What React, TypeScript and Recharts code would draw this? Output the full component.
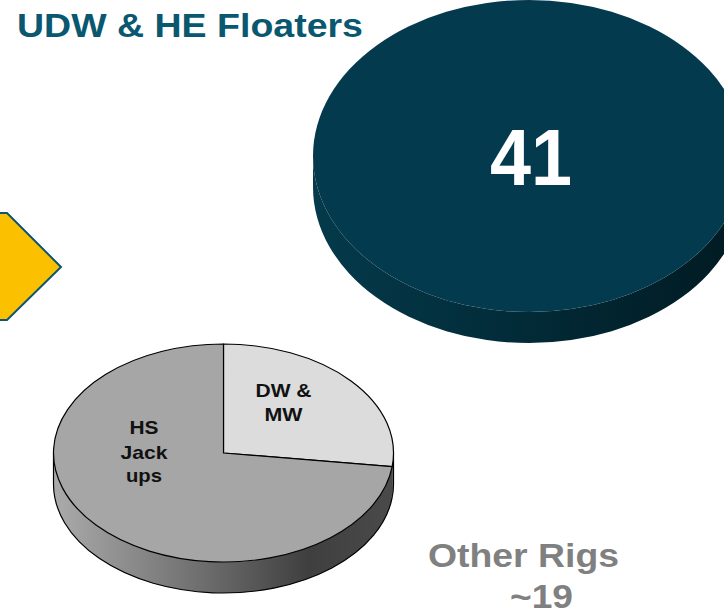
import { PieChart, Pie, Cell } from 'recharts';

// values
const floaterNames = ['UDW & HE Floaters'];
const floaterValues = [41];
const otherNames = ['DW & MW', 'HS Jack ups'];
const otherValues = [27, 73];
const otherTotal = '~19';

const W = 724;
const H = 616;
const FONT = '"Liberation Sans", Arial, Helvetica, sans-serif';

const floaterData = floaterNames.map((name, i) => ({ name, value: floaterValues[i] }));
const otherData = otherNames.map((name, i) => ({ name, value: otherValues[i] }));

// flattened 3D disc: the library gives each sector's angles, this just squashes it
const disc =
  (id: string, tilt: number, depth: number, stops: [number, string][], edgeW: number) =>
  (props: any) => {
    const { cx, cy, outerRadius: r, startAngle, endAngle, fill, stroke } = props;
    const ry = r * tilt;
    const pt = (a: number, dy = 0) => {
      const t = (a * Math.PI) / 180;
      return `${cx + r * Math.cos(t)},${cy - ry * Math.sin(t) + dy}`;
    };
    const lo = Math.min(startAngle, endAngle);
    const hi = Math.max(startAngle, endAngle);
    const full = hi - lo > 359.9;
    const top = full
      ? `M ${cx - r},${cy} A ${r},${ry} 0 1 0 ${cx + r},${cy} A ${r},${ry} 0 1 0 ${cx - r},${cy} Z`
      : `M ${cx},${cy} L ${pt(startAngle)} A ${r},${ry} 0 ${hi - lo > 180 ? 1 : 0} ${
          startAngle > endAngle ? 1 : 0
        } ${pt(endAngle)} Z`;

    // front half of the rim (angles between -180 and 0)
    const parts: [number, number, number][] = [];
    for (let n = -2; n <= 2; n++) {
      const a = Math.max(lo, -180 + 360 * n);
      const b = Math.min(hi, 360 * n);
      if (b - a > 0.01) parts.push([a, b, n]);
    }
    const line = stroke && stroke !== 'none';

    return (
      <g>
        <defs>
          <linearGradient id={id} gradientUnits="userSpaceOnUse" x1={cx - r} y1={0} x2={cx + r} y2={0}>
            {stops.map(([o, c]) => (
              <stop key={o} offset={o} stopColor={c} />
            ))}
          </linearGradient>
        </defs>
        {parts.map(([a, b, n]) => {
          let outline = `M ${pt(b, depth)} A ${r},${ry} 0 0 1 ${pt(a, depth)}`;
          if (a === -180 + 360 * n) outline += ` M ${pt(a)} L ${pt(a, depth)}`;
          if (b === 360 * n) outline += ` M ${pt(b)} L ${pt(b, depth)}`;
          return (
            <g key={a}>
              <path
                d={`M ${pt(a)} A ${r},${ry} 0 0 0 ${pt(b)} L ${pt(b, depth)} A ${r},${ry} 0 0 1 ${pt(a, depth)} Z`}
                fill={`url(#${id})`}
                stroke="none"
              />
              {line && <path d={outline} fill="none" stroke={stroke} strokeWidth={edgeW} />}
            </g>
          );
        })}
        <path
          d={top}
          fill={fill}
          stroke={line ? stroke : 'none'}
          strokeWidth={edgeW}
          strokeLinejoin="round"
        />
      </g>
    );
  };

const bigShape = disc(
  'floaterSide',
  156 / 216,
  31,
  [
    [0, '#043a4b'],
    [0.5, '#022a37'],
    [1, '#011a22'],
  ],
  0
);

const smallShape = disc(
  'otherSide',
  109 / 170,
  31,
  [
    [0, '#ababab'],
    [0.45, '#6c6c6c'],
    [0.75, '#3f3f3f'],
    [1, '#4a4a4a'],
  ],
  1.2
);

const otherColors = ['#DCDCDC', '#A6A6A6'];

const App = () => {
  return (
    <div style={{ position: 'absolute', left: 0, top: 0, width: W, height: H, background: '#fff' }}>
      <PieChart width={W} height={H} margin={{ top: 0, right: 0, bottom: 0, left: 0 }}>
        <Pie
          data={floaterData}
          dataKey="value"
          nameKey="name"
          cx={529}
          cy={156}
          outerRadius={216}
          startAngle={90}
          endAngle={-270}
          stroke="none"
          fill="#043A4E"
          isAnimationActive={false}
          shape={bigShape}
          activeShape={bigShape}
          inactiveShape={bigShape}
        />
        <Pie
          data={otherData}
          dataKey="value"
          nameKey="name"
          cx={223.5}
          cy={453}
          outerRadius={170}
          startAngle={90}
          endAngle={-270}
          stroke="#000"
          isAnimationActive={false}
          shape={smallShape}
          activeShape={smallShape}
          inactiveShape={smallShape}
        >
          {otherData.map((d, i) => (
            <Cell key={d.name} fill={otherColors[i]} stroke="#000" />
          ))}
        </Pie>
      </PieChart>

      <svg
        width={W}
        height={H}
        style={{ position: 'absolute', left: 0, top: 0, pointerEvents: 'none' }}
        fontFamily={FONT}
        fontWeight="bold"
      >
        <polygon
          points="-6,213 7,213 61,267 7,320 -6,320"
          fill="#FBC000"
          stroke="#0B5670"
          strokeWidth={2}
        />
        <text x={17} y={37} fontSize={33} fill="#0A5770" textLength={346} lengthAdjust="spacingAndGlyphs">
          {floaterNames[0]}
        </text>
        <text x={490} y={185} fontSize={80} fill="#fff" textLength={82} lengthAdjust="spacingAndGlyphs">
          {floaterValues[0]}
        </text>

        <g fontSize={19} fill="#111" textAnchor="middle">
          <text x={283.5} y={397} textLength={56} lengthAdjust="spacingAndGlyphs">DW &amp;</text>
          <text x={283.5} y={421} textLength={38} lengthAdjust="spacingAndGlyphs">MW</text>
          <text x={144} y={434} textLength={29} lengthAdjust="spacingAndGlyphs">HS</text>
          <text x={144} y={459} textLength={47} lengthAdjust="spacingAndGlyphs">Jack</text>
          <text x={144} y={482} textLength={36} lengthAdjust="spacingAndGlyphs">ups</text>
        </g>

        <text x={428} y={567} fontSize={34} fill="#808080" textLength={191} lengthAdjust="spacingAndGlyphs">
          Other Rigs
        </text>
        <text x={510} y={608} fontSize={33} fill="#808080" textLength={63} lengthAdjust="spacingAndGlyphs">
          {otherTotal}
        </text>
      </svg>
    </div>
  );
};

export default App;
